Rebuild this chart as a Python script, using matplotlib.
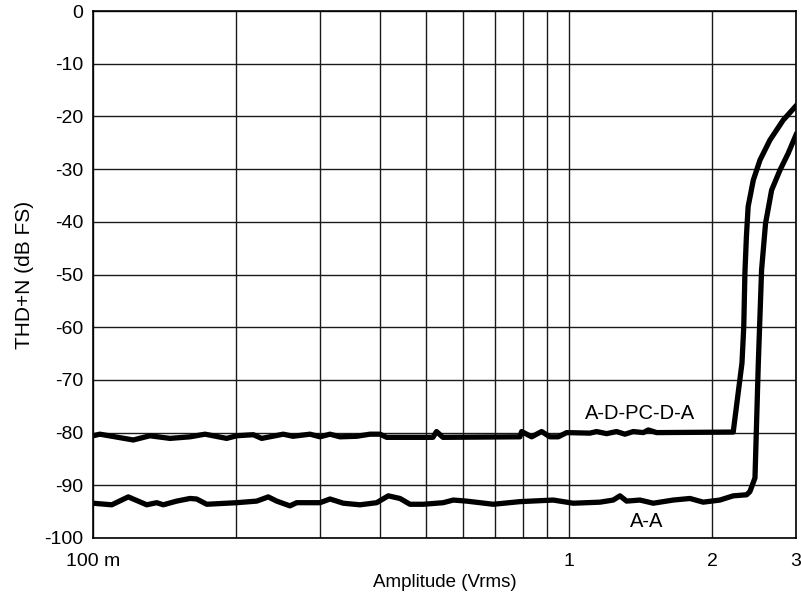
import numpy as np
import matplotlib
matplotlib.use("Agg")
import matplotlib.pyplot as plt
from matplotlib.ticker import FixedLocator, NullFormatter

plt.rcParams['font.family'] = ['Liberation Sans', 'DejaVu Sans']

# A-D-PC-D-A series (Vrms, dB FS)
adpcda_x = [0.100, 0.1034, 0.1215, 0.1317, 0.1451, 0.1599, 0.1719, 0.1909, 0.2004, 0.2172,
            0.2262, 0.2511, 0.2631, 0.2857, 0.2999, 0.3148, 0.3303, 0.3581, 0.3819, 0.4009,
            0.4141, 0.5179, 0.5270, 0.5436, 0.7889, 0.7955, 0.8350, 0.8762, 0.9122, 0.9496,
            0.9890, 1.107, 1.143, 1.200, 1.259, 1.311, 1.365, 1.433, 1.468, 1.529,
            2.214, 2.31, 2.33, 2.343, 2.36, 2.38, 2.44, 2.52, 2.644, 2.82, 3.0]
adpcda_y = [-80.6, -80.3, -81.4, -80.6, -81.1, -80.8, -80.3, -81.1, -80.6, -80.4,
            -81.1, -80.3, -80.7, -80.3, -80.8, -80.3, -80.8, -80.7, -80.3, -80.3,
            -80.9, -80.9, -79.8, -80.9, -80.8, -79.8, -80.8, -79.8, -80.8, -80.8,
            -80.0, -80.1, -79.8, -80.2, -79.8, -80.3, -79.8, -80.0, -79.5, -80.0,
            -79.9, -66.8, -59.9, -49.7, -42.8, -37.1, -32.1, -28.3, -24.5, -20.7, -18.0]

# A-A series (Vrms, dB FS)
aa_x = [0.100, 0.1095, 0.1186, 0.1297, 0.1361, 0.1405, 0.1499, 0.1599, 0.1651, 0.1734,
        0.2004, 0.2208, 0.2335, 0.2432, 0.2593, 0.2679, 0.2999, 0.3148, 0.3357, 0.3639,
        0.3945, 0.4173, 0.4416, 0.4634, 0.4943, 0.5444, 0.5714, 0.6096, 0.6934, 0.7889,
        0.9268, 1.021, 1.162, 1.239, 1.280, 1.322, 1.410, 1.504, 1.656, 1.796,
        1.915, 2.076, 2.214, 2.362, 2.40, 2.46, 2.50, 2.54, 2.589, 2.666, 2.776, 2.889,
        3.0]
aa_y = [-93.4, -93.7, -92.2, -93.7, -93.3, -93.7, -93.0, -92.5, -92.6, -93.6,
        -93.3, -93.0, -92.2, -93.0, -93.9, -93.3, -93.3, -92.6, -93.4, -93.7,
        -93.3, -92.0, -92.5, -93.6, -93.6, -93.3, -92.8, -93.0, -93.6, -93.1,
        -92.8, -93.4, -93.2, -92.8, -92.0, -93.0, -92.8, -93.4, -92.8, -92.5,
        -93.2, -92.8, -92.0, -91.8, -91.2, -88.6, -66.8, -49.1, -40.3, -34.0, -30.2, -27.0,
        -23.5]

x_tick_vals = [0.1, 1, 2, 3]
x_tick_labels = ['100 m', '1', '2', '3']
x_grid_vals = [0.2, 0.3, 0.4, 0.5, 0.6, 0.7, 0.8, 0.9]
y_ticks = list(range(-100, 1, 10))

fig = plt.figure(figsize=(8.01, 6.0), dpi=100)
ax = fig.add_axes([93/801, 62/600, 703/801, 527/600])

ax.plot(adpcda_x, adpcda_y, color='black', lw=3.8, solid_joinstyle='round', zorder=3)
ax.plot(aa_x, aa_y, color='black', lw=3.8, solid_joinstyle='round', zorder=3)

ax.set_xscale('log')
ax.set_xlim(0.1, 3)
ax.set_ylim(-100, 0)

ax.xaxis.set_major_locator(FixedLocator(x_tick_vals))
ax.set_xticklabels(x_tick_labels)
ax.xaxis.set_minor_locator(FixedLocator(x_grid_vals))
ax.xaxis.set_minor_formatter(NullFormatter())
ax.set_yticks(y_ticks)
ax.set_yticklabels([str(v) for v in y_ticks])

ax.grid(True, which='both', color='#1a1a1a', lw=1.0)
ax.tick_params(which='both', length=0, labelsize=14)
ax.tick_params(axis='x', pad=11)
ax.tick_params(axis='y', pad=7)

for s in ax.spines.values():
    s.set_color('black')
    s.set_linewidth(1.2)

ax.set_xlabel('Amplitude (Vrms)', fontsize=13.5, labelpad=3)
ax.set_ylabel('THD+N (dB FS)', fontsize=15, labelpad=7)

ax.text(1.41, -76.3, 'A-D-PC-D-A', fontsize=14.5, ha='center', va='center')
ax.text(1.456, -96.9, 'A-A', fontsize=14.5, ha='center', va='center')

fig.savefig('out.png', dpi=100)
